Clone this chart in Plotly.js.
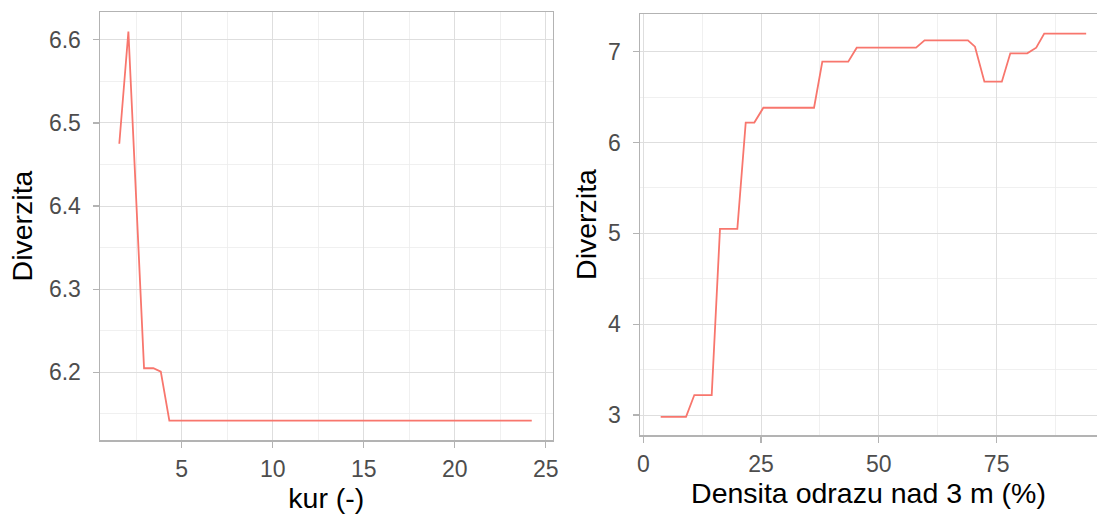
<!DOCTYPE html>
<html>
<head>
<meta charset="utf-8">
<script src="https://cdn.plot.ly/plotly-3.0.1.min.js"></script>
<style>html,body{margin:0;padding:0;background:#fff;}#chart{width:1097px;height:520px;}</style>
</head>
<body>
<div id="chart"></div>
<script>
// Left panel: diverzita vs kur (-)
const kurX = [1.57, 2.07, 2.93, 3.44, 3.85, 4.32, 24.23];
const kurY = [6.475, 6.61, 6.205, 6.205, 6.201, 6.142, 6.142];

// Right panel: diverzita vs densita odrazu nad 3 m (%)
const densX = [3.69, 9.07, 10.83, 14.52, 16.28, 19.96, 21.74, 23.57, 25.48, 36.24, 38.0, 43.5, 45.3, 57.9, 59.7, 68.9, 70.4, 72.4, 76.1, 77.9, 81.5, 83.4, 85.1, 94.0];
const densY = [2.98, 2.98, 3.22, 3.22, 5.05, 5.05, 6.22, 6.22, 6.383, 6.383, 6.89, 6.89, 7.044, 7.044, 7.125, 7.125, 7.055, 6.67, 6.67, 6.982, 6.982, 7.044, 7.2, 7.2];

const leftXTicks = [5, 10, 15, 20, 25];
const leftYTicks = [6.2, 6.3, 6.4, 6.5, 6.6];
const rightXTicks = [0, 25, 50, 75];
const rightYTicks = [3, 4, 5, 6, 7];

const xTitleLeft = 'kur (-)';
const xTitleRight = 'Densita odrazu nad 3 m (%)';
const yTitle = 'Diverzita';

const lineColor = '#F8766D';
const FONT = 'Liberation Sans, Arial, sans-serif';
const W = 1097, H = 520;

function axisBase(standoff) {
  return {
    showline: true, mirror: true, linecolor: '#b3b3b3', linewidth: 1.5,
    ticks: 'outside', ticklen: 6, tickcolor: '#b3b3b3', tickwidth: 1.2,
    showgrid: true, gridcolor: '#dedede', gridwidth: 1,
    zeroline: false, automargin: false,
    tickfont: {family: FONT, size: 23, color: '#4d4d4d'},
    ticklabelstandoff: standoff
  };
}

const traces = [
  {x: kurX, y: kurY, type: 'scatter', mode: 'lines', line: {color: lineColor, width: 1.8}, xaxis: 'x', yaxis: 'y', hoverinfo: 'skip'},
  {x: densX, y: densY, type: 'scatter', mode: 'lines', line: {color: lineColor, width: 1.8}, xaxis: 'x2', yaxis: 'y2', hoverinfo: 'skip'}
];

const layout = {
  width: W, height: H,
  margin: {l: 0, r: 0, t: 0, b: 0},
  paper_bgcolor: '#fff', plot_bgcolor: '#fff',
  showlegend: false,
  font: {family: FONT},
  xaxis: Object.assign(axisBase(2), {
    domain: [100 / W, 552.7 / W], range: [0.51, 25.38], anchor: 'y',
    tickvals: leftXTicks, ticktext: leftXTicks.map(String),
    minor: {showgrid: true, gridcolor: '#ececec', gridwidth: 0.8, tickvals: [2.5, 7.5, 12.5, 17.5, 22.5]},
    title: {text: xTitleLeft, font: {family: FONT, size: 28.5, color: '#000'}, standoff: 6}
  }),
  yaxis: Object.assign(axisBase(7), {
    domain: [1 - 440 / H, 1 - 12 / H], range: [6.1187, 6.6334], anchor: 'x',
    tickvals: leftYTicks, ticktext: leftYTicks.map(v => v.toFixed(1)),
    minor: {showgrid: true, gridcolor: '#ececec', gridwidth: 0.8, tickvals: [6.15, 6.25, 6.35, 6.45, 6.55]},
    title: {text: yTitle, font: {family: FONT, size: 28.5, color: '#000'}, standoff: 8}
  }),
  xaxis2: Object.assign(axisBase(2), {
    domain: [640 / W, 1], range: [-0.7, 96.3], anchor: 'y2',
    tickvals: rightXTicks, ticktext: rightXTicks.map(String),
    minor: {showgrid: true, gridcolor: '#ececec', gridwidth: 0.8, tickvals: [12.5, 37.5, 62.5, 87.5]},
    title: {text: xTitleRight, font: {family: FONT, size: 28.5, color: '#000'}, standoff: 6}
  }),
  yaxis2: Object.assign(axisBase(7), {
    domain: [1 - 435 / H, 1 - 14 / H], range: [2.78, 7.415], anchor: 'x2',
    tickvals: rightYTicks, ticktext: rightYTicks.map(String),
    minor: {showgrid: true, gridcolor: '#ececec', gridwidth: 0.8, tickvals: [3.5, 4.5, 5.5, 6.5]},
    title: {text: yTitle, font: {family: FONT, size: 28.5, color: '#000'}, standoff: 3}
  })
};

Plotly.newPlot('chart', traces, layout, {staticPlot: true, displayModeBar: false});
</script>
</body>
</html>
